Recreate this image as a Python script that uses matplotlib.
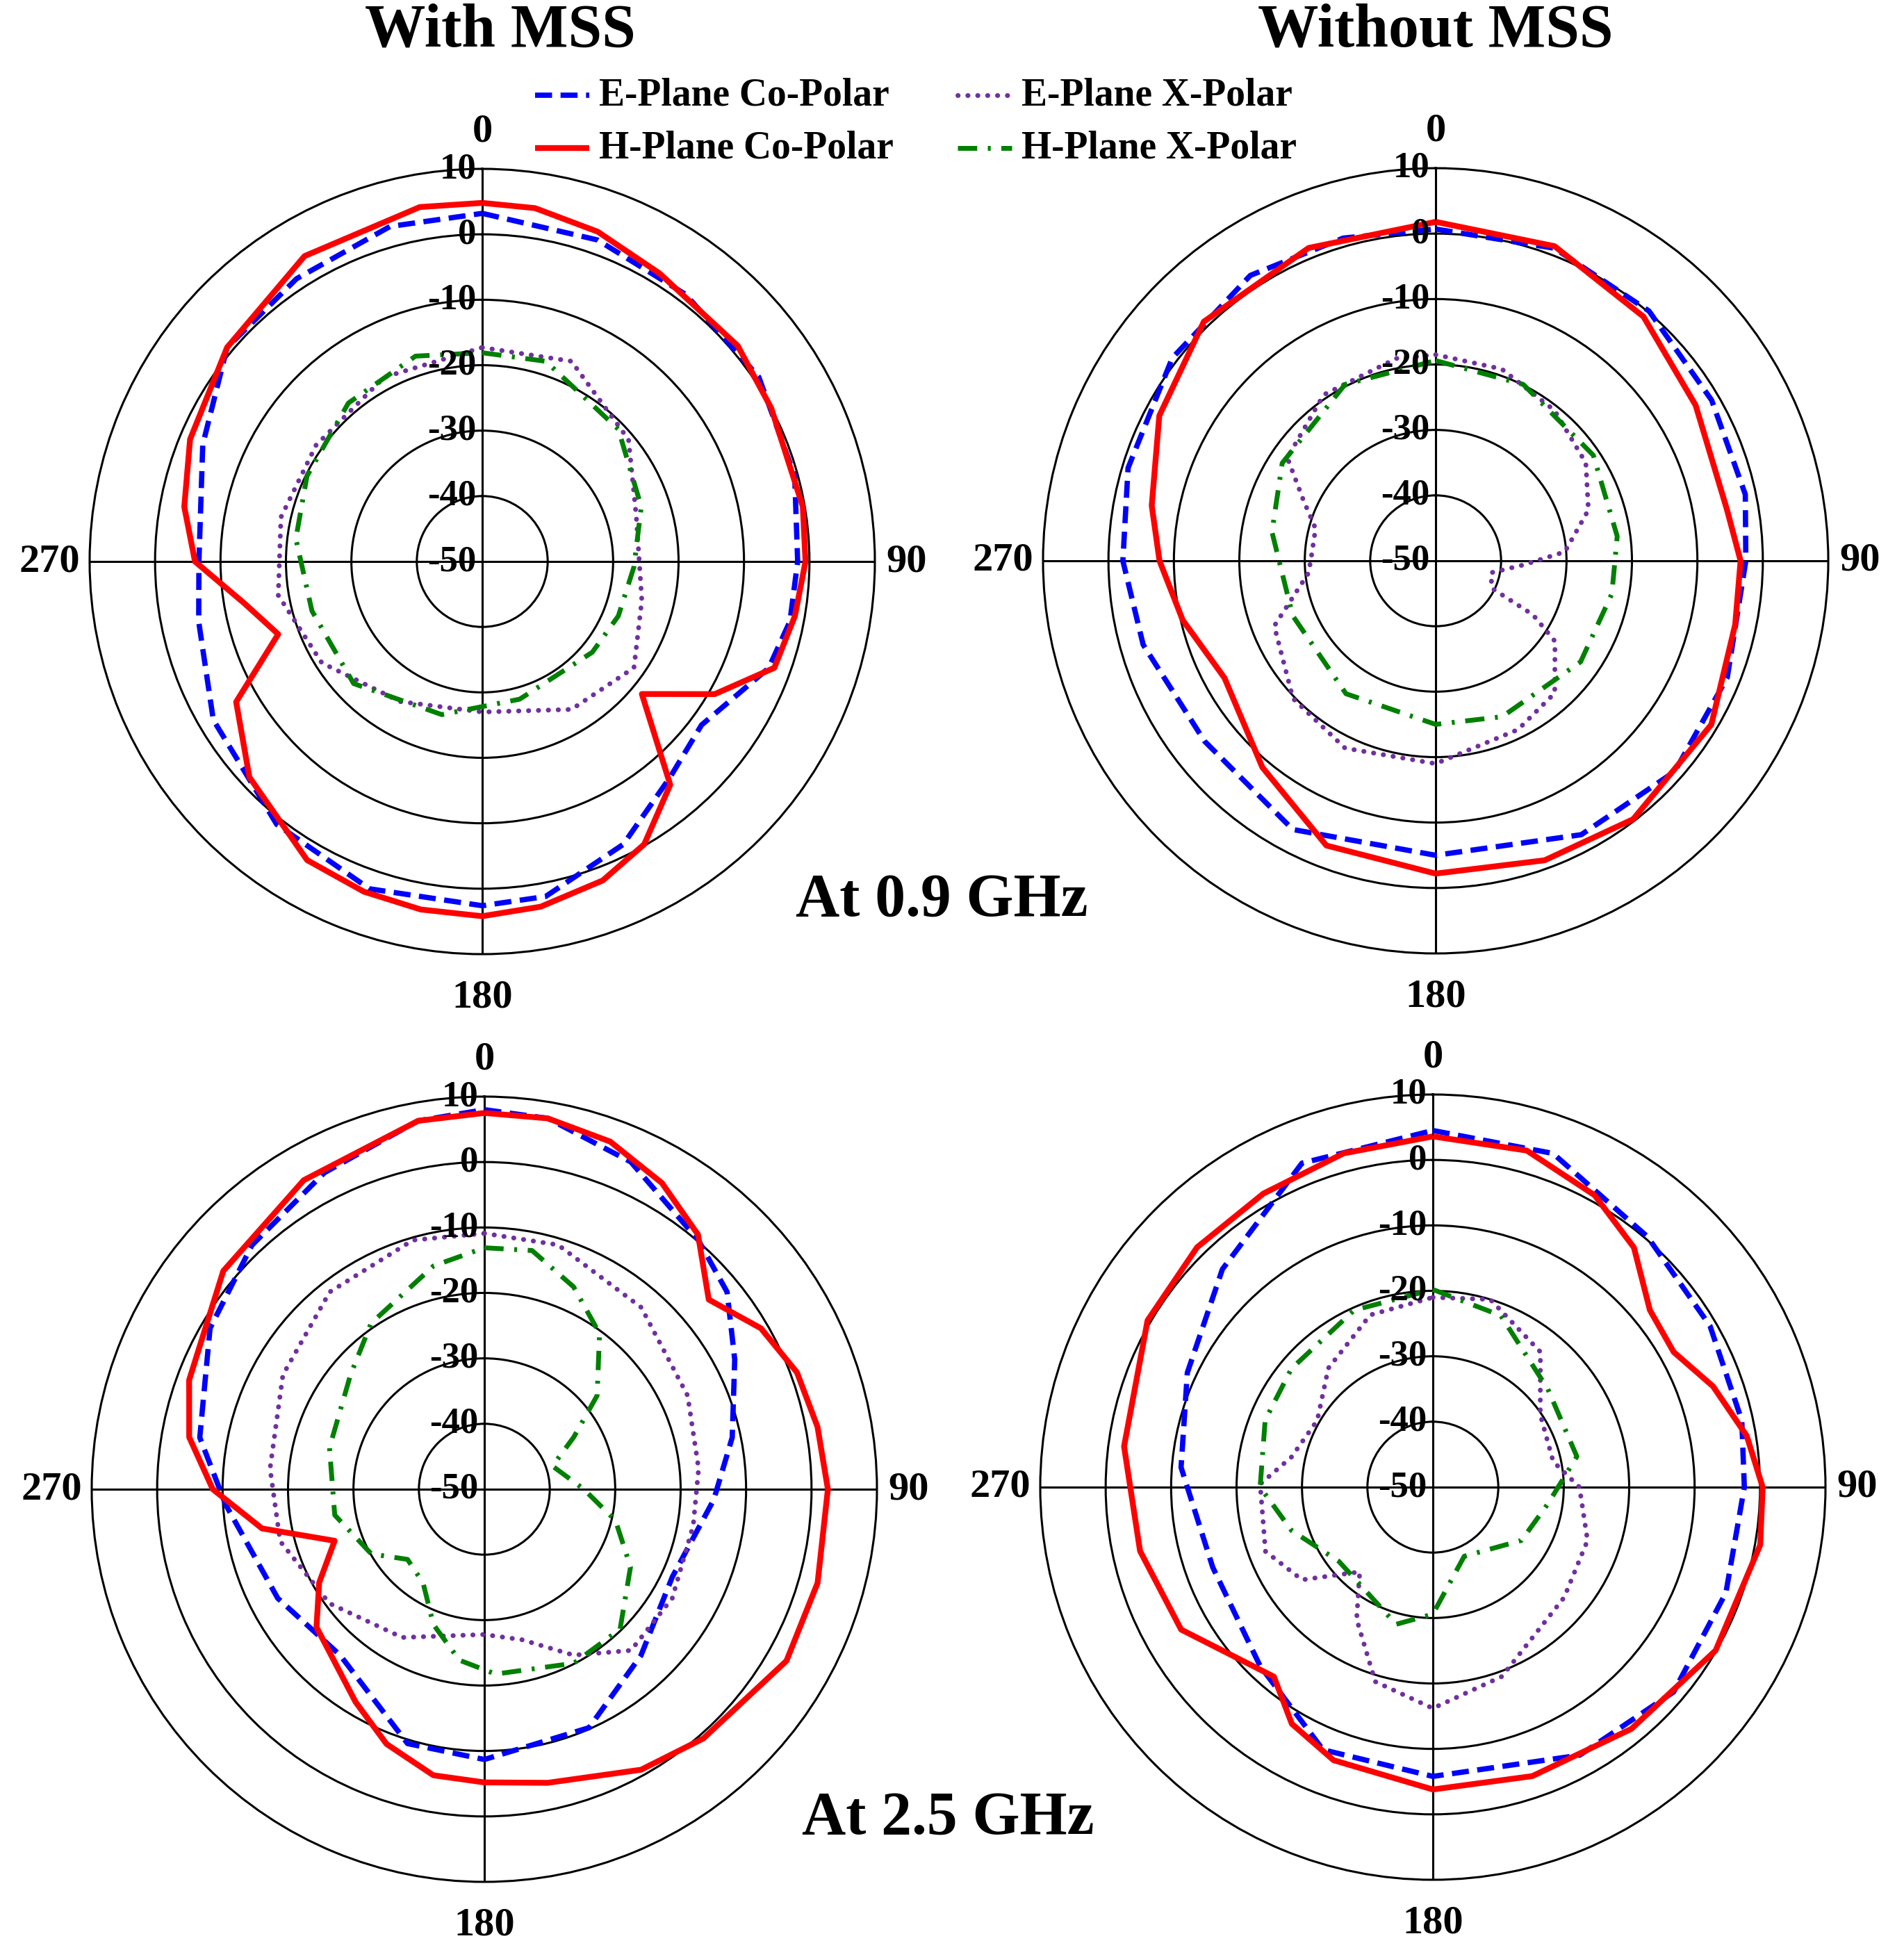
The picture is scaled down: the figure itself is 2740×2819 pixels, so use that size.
import numpy as np
import matplotlib
matplotlib.use("Agg")
import matplotlib.pyplot as plt
from matplotlib.lines import Line2D

# ---------------- data (angle deg, gain dB) ----------------
# Top-left: With MSS, 0.9 GHz
tl_eco_ang = [0,19.7,37.3,56.3,74.7,90,101,110.4,126.7,138.9,153.5,169.3,180,199,218,239.5,258,270,292.7,310,326.7,344.6]
tl_eco_val = [3.2,2.2,1.3,0.8,-0.5,-1.8,-2.1,-3.3,-8.2,-6.3,-1.7,2.1,2.6,2.9,1,-2.3,-5.7,-6.7,-3.7,0.9,1.7,3.1]
tl_hco_ang = [0,8.5,19.3,31.6,49.8,62,80.3,90,99.9,110,119.7,129.7,139.9,150.2,159.3,170.4,180,190,199.7,210.4,227.2,240.3,250.4,260,270,280.4,292.7,310,329.8,350]
tl_hco_val = [4.8,4.6,3.4,1.7,1.1,0,-0.3,-0.6,-1.5,-2.5,-9.1,-18.3,-5.4,-0.2,2.1,3.5,4.2,4,3.6,2.9,-1.5,-6.7,-16.9,-13.1,-6.1,-3.7,-1.6,0.9,4,5]
tl_ex_ang = [0,24,50.2,74,103.7,125,148.9,180,210.3,237.7,260.6,282.4,305,332]
tl_ex_val = [-17.3,-16.5,-20.9,-25.5,-24.9,-21.7,-23.6,-27,-25.2,-21,-18.4,-18.5,-19,-18.1]
tl_hx_ang = [0,17.6,45.8,71,92,111.8,129.5,164.8,194.8,226.5,253.8,277,296,319.8,342]
tl_hx_val = [-18.1,-17.9,-21,-24.3,-26.8,-27.6,-28.2,-28.2,-25.8,-22.9,-22.9,-21.3,-20.2,-18.3,-17]

# Top-right: Without MSS, 0.9 GHz
tr_eco_ang = [0,20.8,40.5,59.8,77.9,90,111.8,131.4,152,180,208,232,254,270,286.8,307.6,327,344]
tr_eco_val = [0.7,1.1,0.2,-1.2,-1.6,-2.6,-2,-1.3,-2.6,-5,-3.5,-5.2,-3.5,-2.2,-0.9,0.8,2,1.3]
tr_hco_ang = [0,20.7,40.4,59.1,80,90,102,120.7,142.6,160,180,201,220,241,256.8,270,281,297.7,315.9,337.9]
tr_hco_val = [1.8,1.4,-1,-3.7,-4.8,-3.4,-3.2,-1,-0.3,-1.3,-2.2,-3.4,-8.8,-13.1,-10.3,-7.8,-5.8,-2.3,0.9,1.6]
tr_ex_ang = [0,19,38.3,56.9,71.6,86,92.7,102,116,119,124,138,154,180,205.8,226,248,264.6,272,285,294.8,304.8,326,349]
tr_ex_val = [-18.5,-19,-20.7,-22.6,-25.4,-30.2,-36.6,-41.3,-40.5,-33,-28,-22.8,-21.3,-19,-18.2,-19.7,-23.4,-30.5,-31,-31,-27.7,-22.4,-19.4,-18.5]
tr_hx_ang = [0,26.4,56.2,82.3,100.6,124.9,156.9,180,214,249,280,302.5,332.8]
tr_hx_val = [-19.4,-19.9,-21,-22,-22.6,-23,-24.1,-25,-25.5,-26.6,-24.6,-22.2,-19.7]

# Bottom-left: With MSS, 2.5 GHz
bl_eco_ang = [0,9.7,24.1,40.6,50.9,62.6,78.2,92.6,115,136.7,156.3,180,196.8,221,242.2,266.6,280.3,300.4,316.4,333.2,349.8]
bl_eco_val = [8,7.5,4.8,0.2,-2.2,-6.9,-11.3,-14.9,-18.3,-15.1,-10.2,-8.7,-9.4,-16.4,-14.3,-10.4,-5.8,-1.4,1.5,4.2,7.2]
bl_hco_ang = [0,9.7,19.9,30.1,40,49.8,59.8,69.5,79.4,90,105.7,119.6,138.7,150.8,167.8,180,190.1,201,211.2,230.6,240.5,251,260,270,280,290.3,309.9,329.7,349.8]
bl_hco_val = [7.5,7.5,6.5,4.1,0.8,-5.1,-1.1,1,1.8,2.5,2.9,3.1,0.7,-0.9,-4.1,-5.2,-5.6,-8.3,-12,-16.8,-21,-25.8,-15.5,-8.5,-4.2,-1.9,2,4.7,7.2]
bl_ex_ang = [0,16.8,40.8,65.3,84.5,99.9,120.1,137.7,151.7,166,180,209,233.6,255.7,275.5,299.6,321.9,344]
bl_ex_val = [-10.9,-11,-13.3,-15.8,-17.1,-17.6,-16.8,-16.7,-21.2,-26.3,-27.8,-24.1,-20.6,-17.8,-17.1,-14.6,-11.7,-10.4]
bl_hx_ang = [0,11.3,23.8,36.5,50.3,59.8,71.2,90,103.4,118,135.9,152.8,176.5,188.3,200.6,213.2,227.6,240.2,260.2,285,310.5,325.7,347.2]
bl_hx_val = [-13.1,-12.8,-16.2,-20.4,-27.6,-34.2,-39,-34.8,-29.4,-24.7,-20.2,-20.1,-21.7,-23.6,-27.9,-32.9,-34.1,-30.1,-26.8,-25.5,-23.1,-19.3,-15]

# Bottom-right: Without MSS, 2.5 GHz
br_eco_ang = [0,19.8,40.6,59.8,77.8,90,109.8,130.4,151.3,180,202.7,224,250,274.5,295,316,338]
br_eco_val = [4.5,4.2,0.4,-1,-1.7,-2.4,-2.4,-1.7,-3.3,-5.8,-6.5,-12,-14.2,-11.4,-8.6,-3.7,3.4]
br_hco_ang = [0,15.6,29,40,50.8,60.7,70.2,80.7,90,100,120,140.6,161,180,200,210.8,220,240.5,257.7,277.5,300.3,315.5,330,345]
br_hco_val = [3.6,3.4,1,-2.2,-7.2,-7.8,-4.5,-1.4,0.4,0.8,-0.1,-2.2,-3.3,-3.8,-5.6,-7.9,-12.2,-5.8,-4.2,-2.4,0.5,1.4,1.8,2.8]
br_ex_ang = [0,17,38.5,56,78,90,109,130,160,180,196.5,210,220.8,234.7,249,271,282,300,318.7,340]
br_ex_val = [-21,-20,-23.6,-30.2,-31.2,-27.6,-25,-23.8,-19.2,-16.2,-19,-26.7,-32.9,-25.5,-22.6,-23.6,-27.9,-29.6,-25.8,-22]
br_hx_ang = [0,21.6,49.5,78,98,121,155.6,180,195,231.7,253,270,291.8,310,336]
br_hx_val = [-19.8,-21.8,-26.9,-27.5,-32.2,-34.2,-38.4,-30.6,-28.3,-31.7,-27.4,-23.6,-22.4,-21.8,-20.4]

r_ticks = [-50, -40, -30, -20, -10, 0, 10]
angle_labels = ["0", "90", "180", "270"]
legend_labels = ["E-Plane Co-Polar", "H-Plane Co-Polar", "E-Plane X-Polar", "H-Plane X-Polar"]

# ---------------- styles ----------------
SERIF = ["Liberation Serif", "DejaVu Serif"]
styles = {
    "eco": dict(color="#0000ff", lw=5.5, dashes=(3.2, 1.6), cap="butt"),
    "hco": dict(color="#ff0000", lw=6.0, dashes=None, cap="butt"),
    "ex": dict(color="#7030a0", lw=5.0, dashes=(0.05, 2.0), cap="round"),
    "hx": dict(color="#008000", lw=5.0, dashes=(4, 2.2, 0.6, 2.2), cap="butt"),
}

W, H = 2740, 2819
fig = plt.figure(figsize=(W/100, H/100), dpi=100)

R = 565
centers = [(694, 808), (2066, 807), (697, 2143), (2062, 2140)]
panels = [
    [(tl_eco_ang, tl_eco_val, "eco"), (tl_ex_ang, tl_ex_val, "ex"), (tl_hx_ang, tl_hx_val, "hx"), (tl_hco_ang, tl_hco_val, "hco")],
    [(tr_eco_ang, tr_eco_val, "eco"), (tr_ex_ang, tr_ex_val, "ex"), (tr_hx_ang, tr_hx_val, "hx"), (tr_hco_ang, tr_hco_val, "hco")],
    [(bl_eco_ang, bl_eco_val, "eco"), (bl_ex_ang, bl_ex_val, "ex"), (bl_hx_ang, bl_hx_val, "hx"), (bl_hco_ang, bl_hco_val, "hco")],
    [(br_eco_ang, br_eco_val, "eco"), (br_ex_ang, br_ex_val, "ex"), (br_hx_ang, br_hx_val, "hx"), (br_hco_ang, br_hco_val, "hco")],
]

def line_kw(st):
    kw = dict(color=st["color"], lw=st["lw"], dash_capstyle=st["cap"], solid_capstyle="butt")
    if st["dashes"] is not None:
        kw["dashes"] = st["dashes"]
    return kw

LBL = 42
for (cx, cy), series in zip(centers, panels):
    ax = fig.add_axes([(cx - R)/W, 1 - (cy + R)/H, 2*R/W, 2*R/H], projection="polar")
    ax.set_theta_zero_location("N")
    ax.set_theta_direction(-1)
    ax.set_ylim(-50, 10)
    ax.set_rgrids([-40, -30, -20, -10, 0], labels=[])
    ax.set_thetagrids([0, 90, 180, 270], labels=[])
    ax.grid(True, color="black", lw=2.2, ls="-")
    ax.spines["polar"].set_linewidth(2.2)
    for ang, val, key in series:
        a = np.deg2rad(list(ang) + [ang[0]])
        v = list(val) + [val[0]]
        ax.plot(a, v, zorder=4 if key == "hco" else 3, **line_kw(styles[key]))
    for rt in r_ticks:
        ax.annotate(str(rt), xy=(0, rt), xytext=(-6, 0), textcoords="offset points",
                    ha="right", va="center", fontsize=38, fontweight="bold", family=SERIF, zorder=5)
    ax.annotate(angle_labels[0], xy=(0.5, 1.0), xycoords="axes fraction", xytext=(0, 20),
                textcoords="offset points", ha="center", va="bottom", fontsize=LBL, fontweight="bold", family=SERIF)
    ax.annotate(angle_labels[1], xy=(1.0, 0.5), xycoords="axes fraction", xytext=(12, 0),
                textcoords="offset points", ha="left", va="center", fontsize=LBL, fontweight="bold", family=SERIF)
    ax.annotate(angle_labels[2], xy=(0.5, 0.0), xycoords="axes fraction", xytext=(0, -26),
                textcoords="offset points", ha="center", va="top", fontsize=LBL, fontweight="bold", family=SERIF)
    ax.annotate(angle_labels[3], xy=(0.0, 0.5), xycoords="axes fraction", xytext=(-10, 0),
                textcoords="offset points", ha="right", va="center", fontsize=LBL, fontweight="bold", family=SERIF)

# titles
fig.text(720/W, 1 - 45/H, "With MSS", ha="center", va="center", fontsize=63, fontweight="bold", family=SERIF)
fig.text(2066/W, 1 - 45/H, "Without MSS", ha="center", va="center", fontsize=63, fontweight="bold", family=SERIF)
fig.text(1355/W, 1 - 1296/H, "At 0.9 GHz", ha="center", va="center", fontsize=63, fontweight="bold", family=SERIF)
fig.text(1364/W, 1 - 2617/H, "At 2.5 GHz", ha="center", va="center", fontsize=63, fontweight="bold", family=SERIF)

# legend (manual)
leg_pos = [(770, 137, "eco"), (770, 213, "hco"), (1378, 137, "ex"), (1378, 213, "hx")]
for (x0, y0, key), lab in zip(leg_pos, legend_labels):
    yy = 1 - y0/H
    fig.add_artist(Line2D([x0/W, (x0 + 78)/W], [yy, yy], transform=fig.transFigure, **line_kw(styles[key])))
    fig.text((x0 + 92)/W, yy, lab, ha="left", va="center", fontsize=40, fontweight="bold", family=SERIF)

fig.savefig("out.png", dpi=100, facecolor="white")
